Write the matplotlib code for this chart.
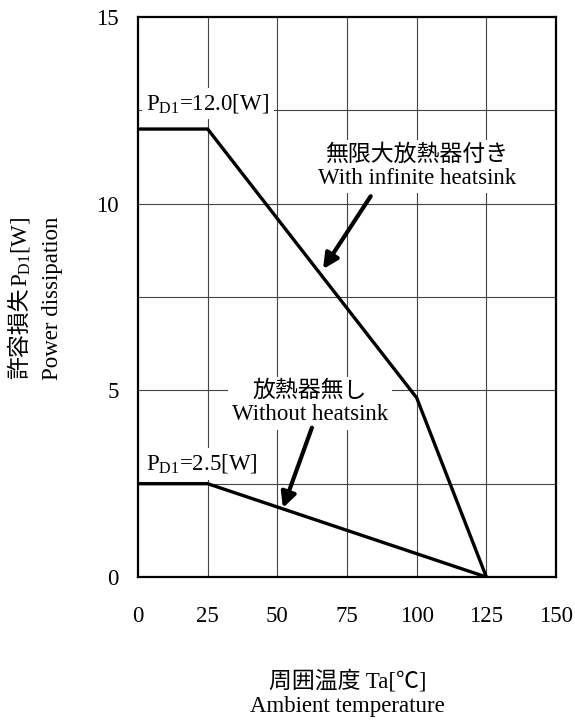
import matplotlib
matplotlib.use("Agg")
import matplotlib.pyplot as plt

plt.rcParams['font.family'] = ['Liberation Serif', 'Noto Sans CJK JP', 'DejaVu Sans']
plt.rcParams['mathtext.fontset'] = 'custom'
plt.rcParams['mathtext.rm'] = 'Liberation Serif'
plt.rcParams['mathtext.it'] = 'Liberation Serif'

# derating curves
temp_inf = [0, 25, 100, 125]
pd_inf = [12.0, 12.0, 4.8, 0.0]
temp_none = [0, 25, 125]
pd_none = [2.5, 2.5, 0.0]

x_ticks = [0, 25, 50, 75, 100, 125, 150]
y_ticks = [0, 5, 10, 15]
x_grid = [25, 50, 75, 100, 125]
y_grid = [2.5, 5, 7.5, 10, 12.5]

FS = 16.5

fig = plt.figure(figsize=(5.75, 7.22), dpi=100)
ax = fig.add_axes([0.240, 0.2008, 0.727, 0.7756])

for gx in x_grid:
    ax.axvline(gx, color='#444444', lw=0.8, zorder=1)
for gy in y_grid:
    ax.axhline(gy, color='#444444', lw=0.8, zorder=1)

ax.plot(temp_inf, pd_inf, color='black', lw=2.4, zorder=4, solid_joinstyle='miter')
ax.plot(temp_none, pd_none, color='black', lw=2.4, zorder=4, solid_joinstyle='miter')

ax.set_xlim(0, 150)
ax.set_ylim(0, 15)
ax.set_xticks(x_ticks)
ax.set_yticks(y_ticks)
ax.tick_params(length=0, labelsize=FS)
ax.tick_params(axis='x', pad=21)
ax.tick_params(axis='y', pad=14)
for s in ax.spines.values():
    s.set_linewidth(1.6)
    s.set_zorder(5)

box = dict(facecolor='white', edgecolor='none', pad=3)

ax.text(3.0, 12.68, r'$\mathrm{P_{D1}}$=12.0[W]', fontsize=FS, ha='left', va='center',
        bbox=box, zorder=3)
ax.text(3.0, 3.03, r'$\mathrm{P_{D1}}$=2.5[W]', fontsize=FS, ha='left', va='center',
        bbox=box, zorder=3)

ax.text(100, 11.0, '無限大放熱器付き\nWith infinite heatsink', fontsize=FS,
        ha='center', va='center', linespacing=1.15, bbox=box, zorder=3)
ax.text(61.7, 4.66, '放熱器無し\nWithout heatsink', fontsize=FS,
        ha='center', va='center', linespacing=1.15, bbox=box, zorder=3)

arrow = dict(arrowstyle='-|>,head_length=0.9,head_width=0.45', color='black', lw=3,
             shrinkA=0, shrinkB=0)
ax.annotate('', xy=(66.4, 8.25), xytext=(83.5, 10.2), arrowprops=arrow, zorder=6)
ax.annotate('', xy=(52.0, 1.85), xytext=(62.4, 4.0), arrowprops=arrow, zorder=6)

# y label: Japanese part and P_D1 part drawn as separate pieces on one baseline
renderer = fig.canvas.get_renderer()
base_x = 0.046
y_center = 0.587
part1 = fig.text(base_x, 0, '許容損失', fontsize=FS, rotation=90,
                 rotation_mode='anchor', ha='left', va='baseline')
part2 = fig.text(base_x, 0, r'$\mathrm{P_{D1}}$[W]', fontsize=FS, rotation=90,
                 rotation_mode='anchor', ha='left', va='baseline')
h1 = part1.get_window_extent(renderer).height / fig.bbox.height
h2 = part2.get_window_extent(renderer).height / fig.bbox.height
y0 = y_center - (h1 + h2) / 2
part1.set_y(y0)
part2.set_y(y0 + h1)

fig.text(0.092, y_center, 'Power dissipation', fontsize=FS, rotation=90,
         ha='center', va='center')
fig.text(0.604, 0.057, '周囲温度 Ta[℃]', fontsize=FS, ha='center', va='center')
fig.text(0.604, 0.022, 'Ambient temperature', fontsize=FS, ha='center', va='center')

fig.savefig('out.png', dpi=100)
